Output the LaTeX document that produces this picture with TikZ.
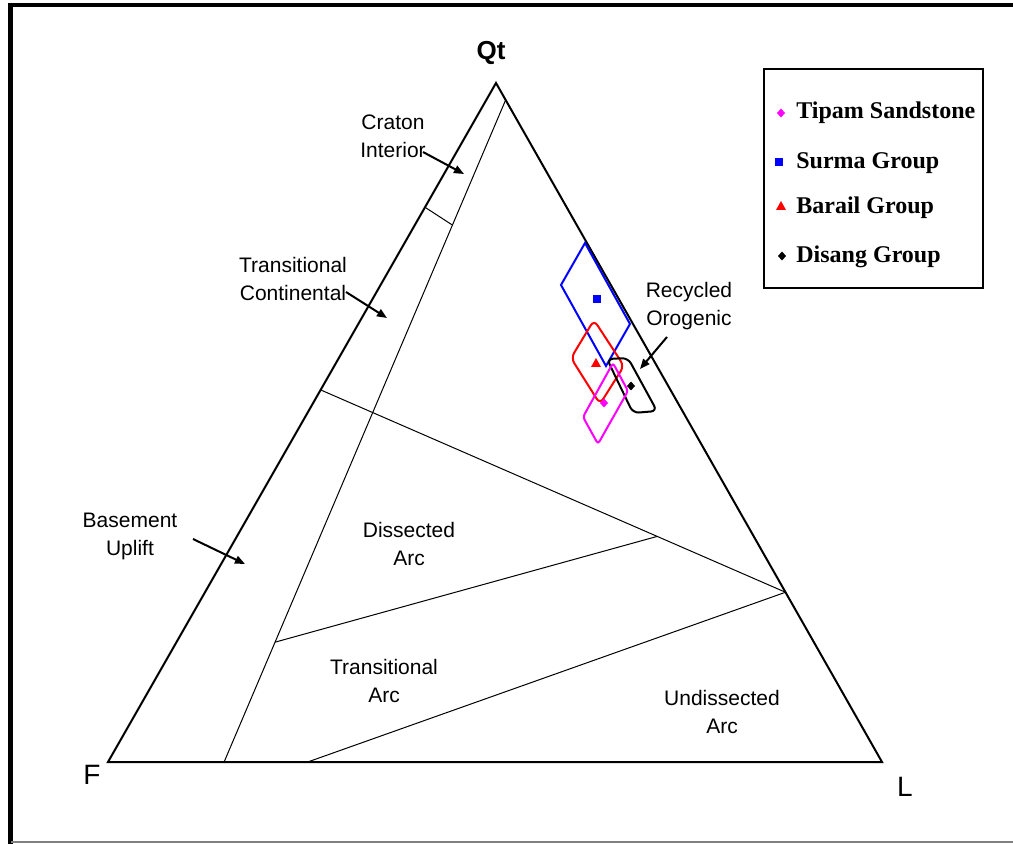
\documentclass[tikz,border=0pt]{standalone}
\usepackage{fontspec}
\setmainfont{Liberation Sans}
\newfontfamily\legendfont{Liberation Serif}
\usetikzlibrary{arrows.meta,calc}
\definecolor{tipam}{RGB}{255,0,255}
\newcommand{\diamondmark}[3]{
	\fill[#1] (#2,#3) +(0,-4.5) -- +(4,0) -- +(0,4.5) -- +(-4,0) -- cycle;
}
\newcommand{\squaremark}[3]{
	\fill[#1] (#2,#3) +(-3.8,-3.8) rectangle +(3.8,3.8);
}
\newcommand{\trianglemark}[3]{
	\fill[#1] (#2,#3) +(0,-5) -- +(5,4) -- +(-5,4) -- cycle;
}
\tikzset{
	region/.style={align=center,font=\fontsize{10.5}{14}\selectfont},
	corner/.style={font=\fontsize{14}{16}\selectfont},
	pointer/.style={-{Triangle[length=5pt,width=4pt]},line width=1pt},
	field/.style={line width=1pt},
	entry/.style={anchor=base west,inner sep=0pt,font=\legendfont\bfseries\fontsize{12}{14}\selectfont}
}
\begin{document}
\begin{tikzpicture}[x=0.5pt,y=-0.5pt]
	\useasboundingbox (0,0) rectangle (1013,844);
	\draw[line width=2.4pt] (10.5,844) -- (10.5,5) -- (1013,5);
	\draw[gray,line width=0.6pt] (10.5,842) -- (1013,842);

	\coordinate (Qt) at (496,83);
	\coordinate (F) at (108,762);
	\coordinate (L) at (882,762);
	\draw[line width=1pt] (Qt) -- (F) -- (L) -- cycle;

	\coordinate (b1) at ($(F)!0.15!(L)$);
	\coordinate (b2) at ($(F)!0.258!(L)$);
	\coordinate (t1) at ($(Qt)!0.025!(L)$);
	\coordinate (r1) at ($(Qt)!0.75!(L)$);
	\coordinate (l1) at ($(Qt)!0.183!(F)$);
	\coordinate (l2) at ($(Qt)!0.452!(F)$);
	\coordinate (c1) at ($(b1)!0.811!(t1)$);
	\coordinate (d1) at ($(b1)!0.181!(t1)$);
	\coordinate (d2) at ($(l2)!0.724!(r1)$);
	\draw[line width=0.5pt] (b1) -- (t1);
	\draw[line width=0.5pt] (l1) -- (c1);
	\draw[line width=0.5pt] (l2) -- (r1);
	\draw[line width=0.5pt] (d1) -- (d2);
	\draw[line width=0.5pt] (b2) -- (r1);

	\node[font=\bfseries\fontsize{13}{15}\selectfont] (qtlab) at (491,53) {Qt};
	\node[corner] (flab) at (92,775) {F};
	\node[corner] (llab) at (905,787) {L};

	\node[region] (craton) at (393,136) {Craton\\Interior};
	\node[region] (transcont) at (293,279) {Transitional\\Continental};
	\node[region] (basement) at (130,536) {Basement\\Uplift};
	\node[region] (dissected) at (409,544) {Dissected\\Arc};
	\node[region] (transarc) at (384,681) {Transitional\\Arc};
	\node[region] (undissected) at (722,712) {Undissected\\Arc};
	\node[region] (recycled) at (689,306) {Recycled\\Orogenic};

	\coordinate (cratontail) at (423,152);
	\coordinate (cratontip) at (464,174);
	\coordinate (transconttail) at (346,292);
	\coordinate (transconttip) at (387,318);
	\coordinate (basementtail) at (193,539);
	\coordinate (basementtip) at (245,564);
	\coordinate (recycledtail) at (667,337);
	\coordinate (recycledtip) at (640,369);
	\draw[pointer] (cratontail) -- (cratontip);
	\draw[pointer] (transconttail) -- (transconttip);
	\draw[pointer] (basementtail) -- (basementtip);
	\draw[pointer] (recycledtail) -- (recycledtip);

	\draw[field,blue] (585,243) -- (561,285) -- (606,366) -- (630,324) -- cycle;
	\draw[field,red,rounded corners=3pt] (594,320) -- (571,358) -- (600,404) -- (624,366) -- cycle;
	\draw[field,black,rounded corners=3pt] (607,359) -- (628,358) -- (657,411) -- (633,413) -- cycle;
	\draw[field,tipam,rounded corners=1.5pt] (613,363) -- (628,391) -- (598,444) -- (583,417) -- cycle;
	\squaremark{blue}{597}{299}
	\trianglemark{red}{596}{363}
	\diamondmark{tipam}{604}{403}
	\diamondmark{black}{631}{386}

	\draw[line width=1.4pt] (764,69) rectangle (983,288);
	\diamondmark{tipam}{781}{113}
	\squaremark{blue}{779}{162}
	\trianglemark{red}{781}{206}
	\diamondmark{black}{782}{256}
	\node[entry] (tipam) at (796,119) {Tipam Sandstone};
	\node[entry] (surma) at (796,169) {Surma Group};
	\node[entry] (barail) at (796,214) {Barail Group};
	\node[entry] (disang) at (796,263) {Disang Group};
\end{tikzpicture}
\end{document}
